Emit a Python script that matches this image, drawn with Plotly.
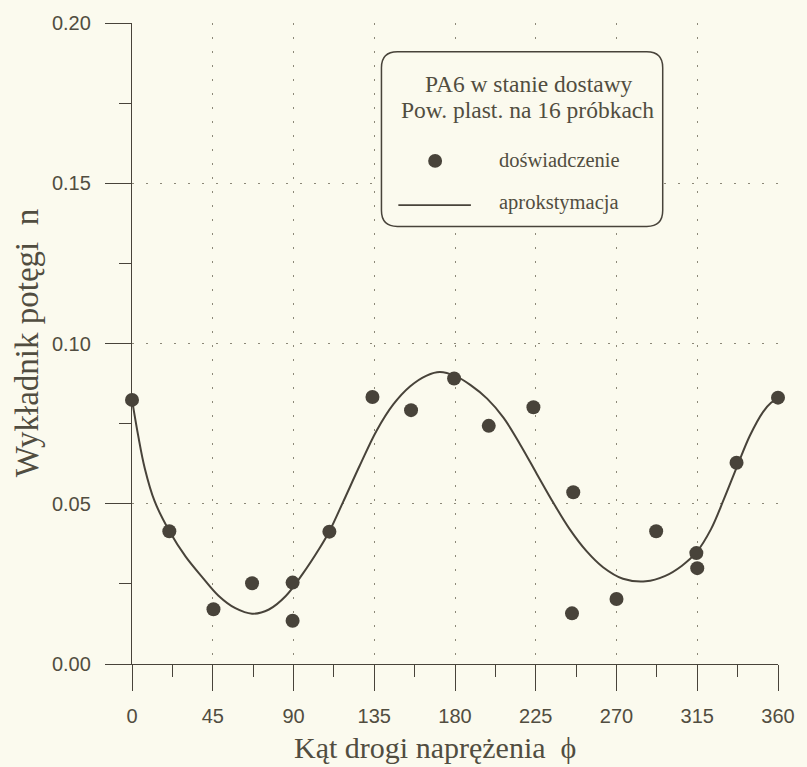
import plotly.graph_objects as go

# ---- data ----
exp_phi = [0, 20.8, 45.4, 66.9, 89.5, 89.5, 110, 134, 155.5, 179.5, 198.8, 223.7, 245.9, 245.2,
           270, 292.1, 314.5, 315, 336.9, 360]
exp_n = [0.0824, 0.0414, 0.0171, 0.0252, 0.0254, 0.0135, 0.0413, 0.0833, 0.0792, 0.0891,
         0.0743, 0.0801, 0.0536, 0.0158, 0.0203, 0.0414, 0.0346, 0.0299, 0.0628, 0.0831]

fit_phi = [0, 3.4, 7.1, 12.6, 20.8, 29.9, 39.0, 48.2, 57.6, 66.9, 76.3, 85.7, 95.1, 104.5,
           110.1, 117.6, 127, 136.3, 145.6, 154.9, 164.2, 171.6, 180.4, 188.7, 197.9, 207.1,
           216.3, 225.6, 234.8, 244, 253.3, 262.5, 273.6, 286.3, 297.2, 306.3, 314.5, 322.6,
           329.9, 337.1, 344.3, 351.6, 356.1, 360]
fit_n = [0.0825, 0.0714, 0.0611, 0.0508, 0.0415, 0.0335, 0.0272, 0.0213, 0.0174, 0.0157,
         0.0170, 0.0212, 0.0281, 0.0361, 0.0415, 0.0505, 0.0620, 0.0728, 0.0810, 0.0866,
         0.0900, 0.0911, 0.0898, 0.0870, 0.0828, 0.0768, 0.0685, 0.0593, 0.0503, 0.0420,
         0.0352, 0.0302, 0.0266, 0.0258, 0.0275, 0.0306, 0.0348, 0.0420, 0.0515, 0.0615,
         0.0712, 0.0786, 0.0815, 0.0828]

x_ticks = [0, 45, 90, 135, 180, 225, 270, 315, 360]
y_ticks = [0.00, 0.05, 0.10, 0.15, 0.20]

x_title = "Kąt drogi naprężenia  ϕ"
y_title = "Wykładnik potęgi  n"
box_line1 = "PA6 w stanie dostawy"
box_line2 = "Pow. plast. na 16 próbkach"
name_exp = "doświadczenie"
name_fit = "aprokstymacja"

# ---- style ----
W, H = 807, 767
L, R, T, B = 132, 25, 18, 103
PW, PH = W - L - R, H - T - B
BG = "#fbfaee"
INK = "#48433a"
TXT = "#514d40"
GRID = "#8c8878"


def px(x):
    return (x - L) / PW


def py(y):
    return (T + PH - y) / PH


fig = go.Figure()
fig.add_trace(go.Scatter(x=fit_phi, y=fit_n, mode="lines",
                         line=dict(color=INK, width=2, shape="spline", smoothing=1.0),
                         name=name_fit, showlegend=False, hoverinfo="skip"))
fig.add_trace(go.Scatter(x=exp_phi, y=exp_n, mode="markers",
                         marker=dict(color=INK, size=14, line=dict(width=0)),
                         name=name_exp, showlegend=False, cliponaxis=False))

axis_common = dict(
    showline=True, linecolor=INK, linewidth=1.3,
    ticks="outside", ticklen=26, tickwidth=1.2, tickcolor=INK,
    showgrid=True, gridcolor=GRID, gridwidth=1, griddash="2px,12px",
    zeroline=False,
    tickfont=dict(family="Liberation Sans, Arial, sans-serif", size=20, color=TXT),
)

fig.update_xaxes(range=[0, 360], tickvals=x_ticks, ticktext=[str(v) for v in x_ticks],
                 minor=dict(tickvals=[22.5 + 45 * i for i in range(8)], ticklen=12,
                            tickwidth=1.2, tickcolor=INK, ticks="outside", showgrid=False),
                 ticklabelstandoff=8, **axis_common)
fig.update_yaxes(range=[0, 0.20], tickvals=y_ticks, ticktext=[f"{v:.2f}" for v in y_ticks],
                 minor=dict(tickvals=[0.025, 0.075, 0.125, 0.175], ticklen=12,
                            tickwidth=1.2, tickcolor=INK, ticks="outside", showgrid=False),
                 ticklabelstandoff=10, **axis_common)

# legend box (rounded rectangle)
x0, x1, y0, y1, r = 383, 666, 47, 223, 16
path = (f"M {px(x0 + r)},{py(y0)} L {px(x1 - r)},{py(y0)} "
        f"Q {px(x1)},{py(y0)} {px(x1)},{py(y0 + r)} "
        f"L {px(x1)},{py(y1 - r)} Q {px(x1)},{py(y1)} {px(x1 - r)},{py(y1)} "
        f"L {px(x0 + r)},{py(y1)} Q {px(x0)},{py(y1)} {px(x0)},{py(y1 - r)} "
        f"L {px(x0)},{py(y0 + r)} Q {px(x0)},{py(y0)} {px(x0 + r)},{py(y0)} Z")
shapes = [
    dict(type="path", xref="paper", yref="paper", path=path,
         line=dict(color=INK, width=1.5), fillcolor=BG, layer="above"),
    dict(type="circle", xref="paper", yref="paper",
         x0=px(437 - 7), x1=px(437 + 7), y0=py(157 + 7), y1=py(157 - 7),
         fillcolor=INK, line=dict(width=0), layer="above"),
    dict(type="line", xref="paper", yref="paper",
         x0=px(400), x1=px(473), y0=py(201.5), y1=py(201.5),
         line=dict(color=INK, width=1.6), layer="above"),
]

serif = "Liberation Serif, Times New Roman, serif"
ann = [
    dict(text=box_line1, x=px(531), y=py(79), xanchor="center", yanchor="middle",
         font=dict(family=serif, size=23.5, color=TXT)),
    dict(text=box_line2, x=px(530), y=py(106), xanchor="center", yanchor="middle",
         font=dict(family=serif, size=23.5, color=TXT)),
    dict(text=name_exp, x=px(499), y=py(156), xanchor="left", yanchor="middle",
         font=dict(family=serif, size=20.5, color=TXT)),
    dict(text=name_fit, x=px(499), y=py(199), xanchor="left", yanchor="middle",
         font=dict(family=serif, size=20.5, color=TXT)),
    dict(text=x_title, x=px(437), y=py(748), xanchor="center", yanchor="middle",
         font=dict(family=serif, size=30, color=TXT)),
    dict(text=y_title, x=px(26), y=py(341), xanchor="center", yanchor="middle",
         textangle=-90, font=dict(family=serif, size=33, color=TXT)),
]
for a in ann:
    a.update(xref="paper", yref="paper", showarrow=False)

fig.update_layout(width=W, height=H, margin=dict(l=L, r=R, t=T, b=B),
                  paper_bgcolor=BG, plot_bgcolor=BG, showlegend=False,
                  shapes=shapes, annotations=ann)

fig.write_html("out.html")
